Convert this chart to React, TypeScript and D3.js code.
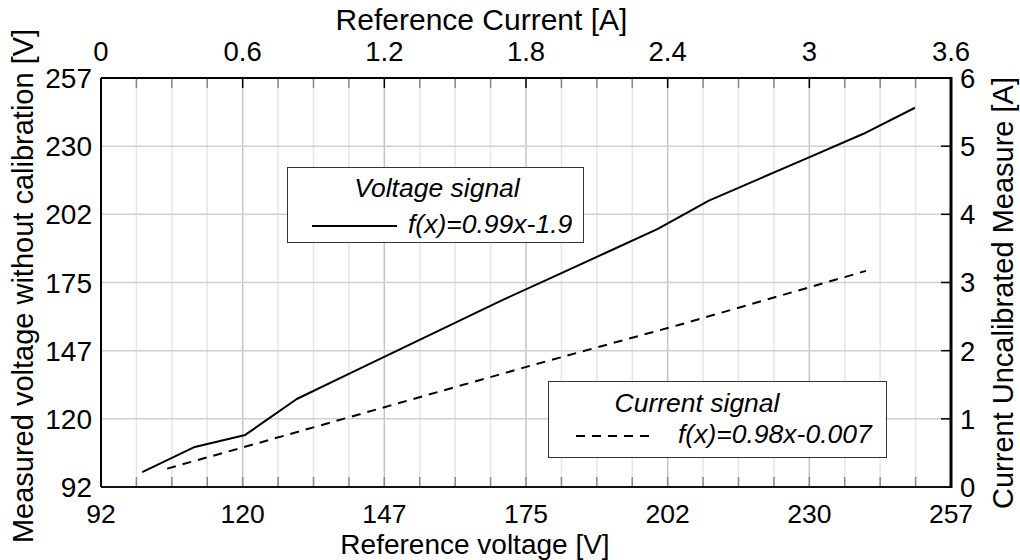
import React from "react";
import * as d3 from "d3";

// ---- data ----
const voltageRef = [100, 110, 120, 130, 140, 150, 160, 170, 180, 190, 200, 210, 220, 230, 240, 250];
const voltageMeasured = [98, 108, 113, 127.5, 137.5, 147.5, 157.5, 167.5, 177, 186.5, 196, 207.5, 216.5, 225.5, 234.5, 245];

const currentRef = [0.28, 0.6, 1.22, 1.84, 2.45, 2.85, 3.24];
const currentMeasured = [0.27, 0.58, 1.19, 1.8, 2.38, 2.78, 3.17];

const voltageTickLabels = ["92", "120", "147", "175", "202", "230", "257"];
const currentTopTickLabels = ["0", "0.6", "1.2", "1.8", "2.4", "3", "3.6"];
const currentRightTickLabels = ["0", "1", "2", "3", "4", "5", "6"];

const voltageLegend = { title: "Voltage signal", label: "f(x)=0.99x-1.9" };
const currentLegend = { title: "Current signal", label: "f(x)=0.98x-0.007" };

const W = 1020;
const H = 560;
const L = 101, R = 951, T = 78, B = 487;
const FONT = "'Liberation Sans', Arial, Helvetica, sans-serif";

export default function App() {
  const xV = d3.scaleLinear().domain([92, 257]).range([L, R]);
  const yV = d3.scaleLinear().domain([92, 257]).range([B, T]);
  const xI = d3.scaleLinear().domain([0, 3.6]).range([L, R]);
  const yI = d3.scaleLinear().domain([0, 6]).range([B, T]);

  const minorX = d3.range(0, 25).map((i) => xI(i * 0.15));
  const majorY = d3.range(0, 7).map((i) => yI(i));

  const lineV = d3
    .line<number>()
    .x((_, i) => xV(voltageRef[i]))
    .y((d) => yV(d));
  const lineI = d3
    .line<number>()
    .x((_, i) => xI(currentRef[i]))
    .y((d) => yI(d));

  const vStep = (257 - 92) / 6;

  return (
    <svg
      width={W}
      height={H}
      style={{ position: "absolute", left: 0, top: 0, background: "#fff" }}
      fontFamily={FONT}
    >
      <rect x={0} y={0} width={W} height={H} fill="#fff" />
      {/* grid */}
      {minorX.map((x, i) =>
        i % 4 === 0 ? null : (
          <line key={"mx" + i} x1={x} x2={x} y1={T} y2={B} stroke="#e6e6e6" strokeWidth={1.5} />
        )
      )}
      {minorX.map((x, i) =>
        i % 4 === 0 ? (
          <line key={"Mx" + i} x1={x} x2={x} y1={T} y2={B} stroke="#c4c4c4" strokeWidth={1.5} />
        ) : null
      )}
      {majorY.map((y, i) => (
        <line key={"My" + i} x1={L} x2={R} y1={y} y2={y} stroke="#d0d0d0" strokeWidth={1.5} />
      ))}

      {/* tick marks */}
      {minorX.map((x, i) => (
        <line key={"bt" + i} x1={x} x2={x} y1={B} y2={B - 10} stroke="#888" strokeWidth={1.5} />
      ))}
      {minorX.map((x, i) => (
        <line
          key={"tt" + i}
          x1={x}
          x2={x}
          y1={T}
          y2={T + 10}
          stroke={i % 4 === 0 ? "#000" : "#888"}
          strokeWidth={1.5}
        />
      ))}
      {majorY.map((y, i) => (
        <line key={"rt" + i} x1={R} x2={R - 10} y1={y} y2={y} stroke="#000" strokeWidth={1.5} />
      ))}

      {/* data */}
      <path d={lineV(voltageMeasured) || ""} fill="none" stroke="#000" strokeWidth={2} strokeLinejoin="round" />
      <path
        d={lineI(currentMeasured) || ""}
        fill="none"
        stroke="#000"
        strokeWidth={2}
        strokeDasharray="9,7"
      />

      {/* frame */}
      <line x1={L} x2={R} y1={T} y2={T} stroke="#000" strokeWidth={2} />
      <line x1={L} x2={R} y1={B} y2={B} stroke="#111" strokeWidth={2} />
      <line x1={L} x2={L} y1={T} y2={B} stroke="#000" strokeWidth={2} />
      <line x1={R} x2={R} y1={T - 1} y2={B + 1} stroke="#000" strokeWidth={3} />

      {/* tick labels */}
      {voltageTickLabels.map((t, i) => (
        <text key={"bl" + i} x={xV(92 + i * vStep)} y={523} fontSize={26.5} textAnchor="middle" fill="#000">
          {t}
        </text>
      ))}
      {voltageTickLabels.map((t, i) => (
        <text
          key={"ll" + i}
          x={92}
          y={yV(92 + i * vStep)}
          dy="0.36em"
          fontSize={28}
          textAnchor="end"
          fill="#000"
        >
          {t}
        </text>
      ))}
      {currentTopTickLabels.map((t, i) => (
        <text key={"tl" + i} x={xI(i * 0.6)} y={61} fontSize={27.5} textAnchor="middle" fill="#000">
          {t}
        </text>
      ))}
      {currentRightTickLabels.map((t, i) => (
        <text key={"rl" + i} x={960} y={yI(i)} dy="0.36em" fontSize={27.5} textAnchor="start" fill="#000">
          {t}
        </text>
      ))}

      {/* axis titles */}
      <text x={475} y={554} fontSize={28} textAnchor="middle" fill="#000">
        Reference voltage [V]
      </text>
      <text x={481.5} y={30} fontSize={30} textAnchor="middle" fill="#000">
        Reference Current [A]
      </text>
      <text
        transform={`translate(33,286) rotate(-90)`}
        fontSize={29}
        textAnchor="middle"
        fill="#000"
      >
        Measured voltage without calibration [V]
      </text>
      <text
        transform={`translate(1013,293) rotate(-90)`}
        fontSize={29}
        textAnchor="middle"
        fill="#000"
      >
        Current Uncalibrated Measure [A]
      </text>

      {/* legends */}
      <g>
        <rect x={287.5} y={167.5} width={296} height={75} fill="#fff" stroke="#333" strokeWidth={1} />
        <text x={437} y={197} fontSize={26.5} fontStyle="italic" textAnchor="middle" fill="#000">
          {voltageLegend.title}
        </text>
        <line x1={312} x2={397} y1={226} y2={226} stroke="#000" strokeWidth={2} />
        <text x={408} y={233} fontSize={26.5} fontStyle="italic" fill="#000">
          {voltageLegend.label}
        </text>
      </g>
      <g>
        <rect x={548.5} y={381.5} width={338} height={76} fill="#fff" stroke="#333" strokeWidth={1} />
        <text x={697} y={412} fontSize={26.5} fontStyle="italic" textAnchor="middle" fill="#000">
          {currentLegend.title}
        </text>
        <line
          x1={576}
          x2={655}
          y1={436}
          y2={436}
          stroke="#000"
          strokeWidth={2}
          strokeDasharray="9,7"
        />
        <text x={678} y={443} fontSize={26.5} fontStyle="italic" fill="#000">
          {currentLegend.label}
        </text>
      </g>
    </svg>
  );
}
